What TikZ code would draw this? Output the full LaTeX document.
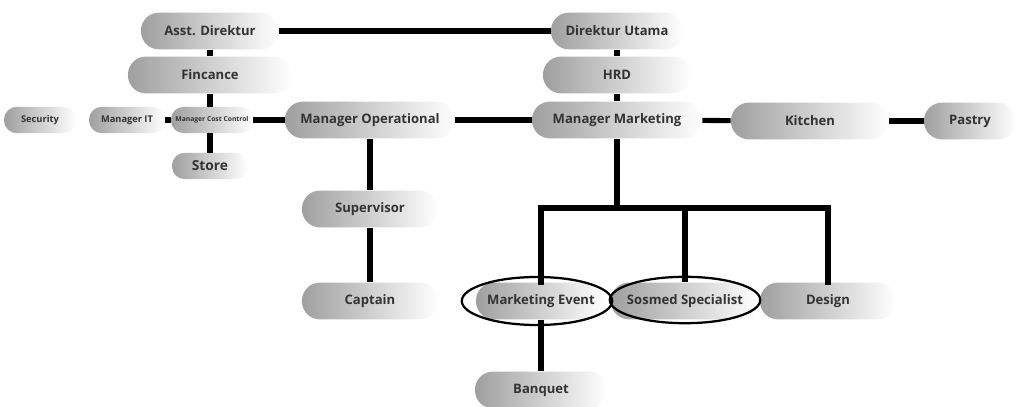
\documentclass[tikz,border=0pt]{standalone}
\usepackage{fontspec}
\setmainfont{Open Sans}
\usepackage{tikz}
\usetikzlibrary{positioning}

\tikzset{
    pill/.style={rounded corners=0.45cm, left color=gray!75, right color=white, text=black!80, minimum height=0.92cm, inner sep=0pt, font=\bfseries\fontsize{9.3}{11}\selectfont},
    smallpill/.style={pill, rounded corners=0.32cm, minimum height=0.66cm, font=\bfseries\fontsize{6.6}{8}\selectfont},
    link/.style={line width=3.6pt, draw=black},
    ring/.style={line width=1.6pt, draw=black}
}

\begin{document}
\begin{tikzpicture}[x=0.025cm, y=-0.025cm]
    \useasboundingbox (0,0) rectangle (1035,407);
    % top level
    \node[pill, minimum width=3.45cm] (asst) at (210,31) {Asst. Direktur};
    \node[pill, minimum width=3.3cm] (dirut) at (617,31) {Direktur Utama};
    \node[pill, minimum width=4.1cm] (finance) at (210,75) {Fincance};
    \node[pill, minimum width=3.7cm] (hrd) at (617,75) {HRD};
    % middle row
    \node[smallpill, minimum width=1.8cm] (security) at (40,120) {Security};
    \node[smallpill, minimum width=1.9cm] (mit) at (127,120) {Manager IT};
    \node[smallpill, minimum width=2.05cm, font=\bfseries\fontsize{4.8}{6}\selectfont] (mcc) at (212,120) {Manager Cost Control};
    \node[pill, minimum width=4.25cm] (mo) at (370,120) {Manager Operational};
    \node[pill, minimum width=4.25cm] (mm) at (617,120) {Manager Marketing};
    \node[pill, minimum width=3.95cm] (kitchen) at (810,121) {Kitchen};
    \node[pill, minimum width=2.3cm] (pastry) at (970,121) {Pastry};
    \node[smallpill, minimum width=1.9cm, font=\bfseries\fontsize{9.8}{11}\selectfont] (store) at (210,166) {Store};
    % operational branch
    \node[pill, minimum width=3.4cm] (supervisor) at (370,209) {Supervisor};
    \node[pill, minimum width=3.4cm] (captain) at (370,301) {Captain};
    % marketing branch
    \node[pill, minimum width=3.25cm] (event) at (541,301) {Marketing Event};
    \node[pill, minimum width=3.7cm] (sosmed) at (685,301) {Sosmed Specialist};
    \node[pill, minimum width=3.4cm] (design) at (828,301) {Design};
    \node[pill, minimum width=3.3cm] (banquet) at (541,390) {Banquet};
    \coordinate (bar) at (617,208);

    \draw[ring] (537,301) ellipse [x radius=1.88cm, y radius=0.6cm];
    \draw[ring] (685,300) ellipse [x radius=1.88cm, y radius=0.58cm];

    \draw[link] (asst) -- (dirut);
    \draw[link] (asst) -- (finance);
    \draw[link] (dirut) -- (hrd);
    \draw[link] (hrd) -- (mm);
    \draw[link] (finance.south) -- (finance.south |- mcc.north);
    \draw[link] (mcc.south -| store) -- (store);
    \draw[link] (mit) -- (mcc);
    \draw[link] (mcc) -- (mo);
    \draw[link] (mo) -- (mm);
    \draw[link] (mm) -- (kitchen);
    \draw[link] (kitchen) -- (pastry);
    \draw[link] (mo) -- (supervisor);
    \draw[link] (supervisor) -- (captain);
    \draw[link] (mm) -- (bar);
    \draw[link, line cap=rect] (event) |- (bar) -| (design);
    \draw[link] (sosmed) -- (sosmed |- bar);
    \draw[link] (event) -- (banquet);
\end{tikzpicture}
\end{document}
